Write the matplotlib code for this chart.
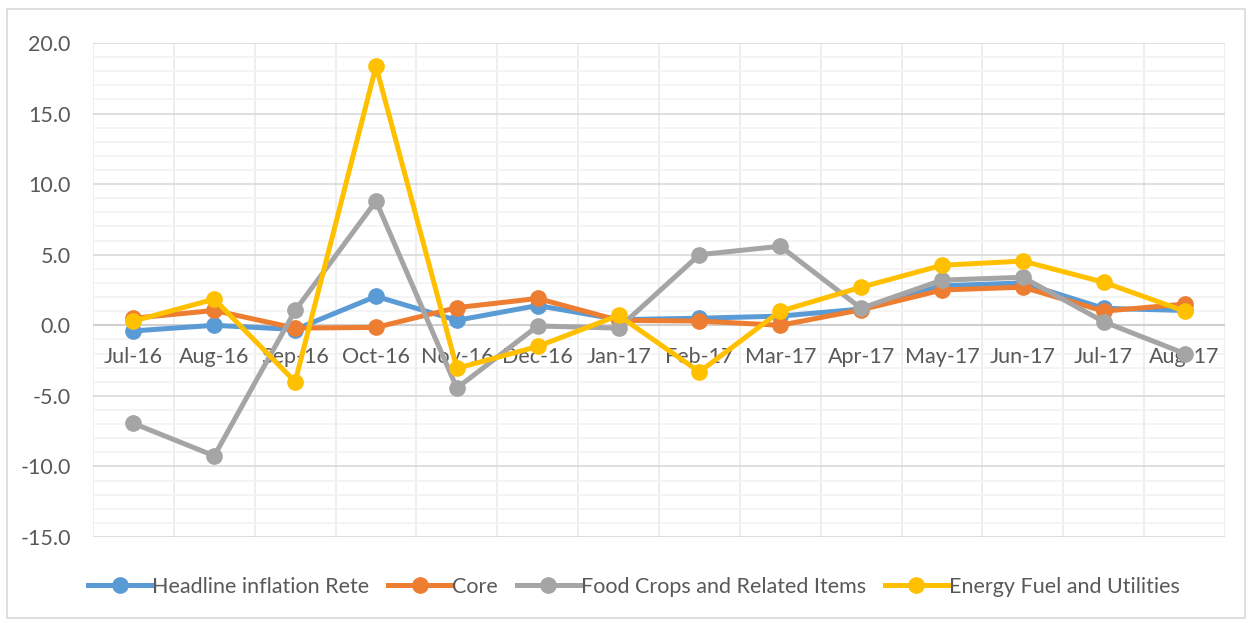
import matplotlib
matplotlib.use("Agg")
import matplotlib.pyplot as plt
from matplotlib.patches import Rectangle
from matplotlib.ticker import MultipleLocator, FixedLocator, NullFormatter

months = ["Jul-16", "Aug-16", "Sep-16", "Oct-16", "Nov-16", "Dec-16", "Jan-17",
          "Feb-17", "Mar-17", "Apr-17", "May-17", "Jun-17", "Jul-17", "Aug-17"]
headline = [-0.4, 0.0, -0.3, 2.05, 0.35, 1.4, 0.4, 0.5, 0.65, 1.15, 2.8, 3.0, 1.2, 1.05]
core = [0.5, 1.05, -0.2, -0.15, 1.25, 1.9, 0.35, 0.3, 0.0, 1.1, 2.5, 2.7, 1.0, 1.5]
food = [-6.95, -9.25, 1.05, 8.8, -4.45, -0.05, -0.2, 5.0, 5.6, 1.2, 3.2, 3.4, 0.25, -2.0]
energy = [0.3, 1.85, -4.0, 18.35, -3.05, -1.5, 0.7, -3.3, 1.0, 2.7, 4.25, 4.55, 3.05, 1.0]

series_names = ["Headline inflation Rete", "Core", "Food Crops and Related Items",
                "Energy Fuel and Utilities"]
colors = ["#5B9BD5", "#ED7D31", "#A5A5A5", "#FFC000"]

plt.rcParams['font.family'] = ['Lato', 'DejaVu Sans']
text_color = "#595959"
fs = 15.5

W, H = 1252, 623
fig = plt.figure(figsize=(W / 100, H / 100), dpi=100)
fig.patch.set_facecolor("white")
fig.add_artist(Rectangle((7 / W, 1 - 618 / H), (1245 - 7) / W, (618 - 9) / H,
                         transform=fig.transFigure, fill=False,
                         edgecolor="#d9d9d9", linewidth=1.2))

ax = fig.add_axes([93 / W, 1 - 537 / H, (1225 - 93) / W, (537 - 43) / H])
ax.set_xlim(-0.5, len(months) - 0.5)
ax.set_ylim(-15, 20)

# gridlines
ax.yaxis.set_major_locator(MultipleLocator(5))
ax.yaxis.set_minor_locator(MultipleLocator(1))
ax.grid(which="minor", axis="y", color="#f2f2f2", linewidth=1.2)
ax.grid(which="major", axis="y", color="#d9d9d9", linewidth=1.2)
ax.xaxis.set_major_locator(FixedLocator([i - 0.5 for i in range(len(months) + 1)]))
ax.xaxis.set_major_formatter(NullFormatter())
ax.grid(which="major", axis="x", color="#ebebeb", linewidth=1.2)
ax.set_axisbelow(True)
for s in ax.spines.values():
    s.set_visible(False)
ax.tick_params(axis="both", which="both", length=0)
ax.tick_params(axis="y", labelsize=fs, labelcolor=text_color, pad=16)
ax.yaxis.set_major_formatter(matplotlib.ticker.FormatStrFormatter("%.1f"))
ax.axhline(0, color="#d0d0d0", linewidth=1.5, zorder=1)

x = list(range(len(months)))
for vals, name, c in zip([headline, core, food, energy], series_names, colors):
    ax.plot(x, vals, color=c, linewidth=3.6, marker="o", markersize=11,
            label=name, solid_joinstyle="round", zorder=3)

for i, m in enumerate(months):
    ax.annotate(m, xy=(i, 0), xytext=(0, -32), textcoords="offset pixels",
                ha="center", va="center", fontsize=fs, color=text_color,
                annotation_clip=False, zorder=2)

handles, labels = ax.get_legend_handles_labels()
fig.legend(handles, labels, loc="center", bbox_to_anchor=(634 / W, 1 - 587 / H),
           ncol=4, frameon=False, fontsize=fs, labelcolor=text_color,
           handlelength=2.9, handletextpad=0.05, columnspacing=0.9)

fig.savefig("out.png", dpi=100, facecolor="white")
